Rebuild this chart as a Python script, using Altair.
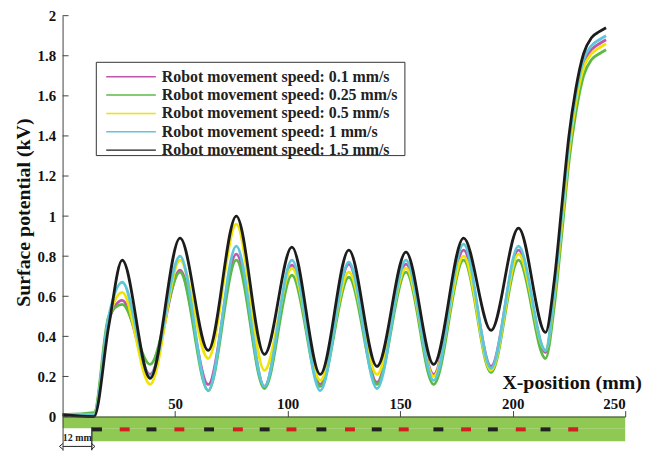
import altair as alt
import pandas as pd

SERIES = [
    "Robot movement speed: 0.1 mm/s",
    "Robot movement speed: 0.25 mm/s",
    "Robot movement speed: 0.5 mm/s",
    "Robot movement speed: 1 mm/s",
    "Robot movement speed: 1.5 mm/s",
]
COLORS = ["#c055ad", "#5cb947", "#f0e400", "#5cc6da", "#1c1c1c"]

X_POS = [0, 14, 20.5, 26.5, 38.9, 52.2, 64.7, 77.2, 89.7, 101.9, 114.5, 127.2, 139.7,
         152.6, 164.9, 178.2, 190.4, 202.6, 214.6, 218.5, 222, 225, 228, 231.5, 235, 238.5, 241.5]

V_01 = [0.01, 0.01, 0.48, 0.58, 0.21, 0.73, 0.16, 0.81, 0.15, 0.755, 0.16, 0.76, 0.17, 0.76,
        0.21, 0.83, 0.25, 0.83, 0.32, 0.60, 1.00, 1.34, 1.58, 1.76, 1.83, 1.86, 1.88]
V_025 = [0.01, 0.02, 0.50, 0.56, 0.26, 0.72, 0.13, 0.78, 0.14, 0.705, 0.15, 0.695, 0.16, 0.72,
         0.16, 0.78, 0.22, 0.78, 0.29, 0.55, 0.93, 1.27, 1.51, 1.70, 1.78, 1.81, 1.83]
V_05 = [0.01, 0.01, 0.48, 0.62, 0.16, 0.78, 0.29, 0.96, 0.23, 0.74, 0.18, 0.72, 0.21, 0.74,
        0.20, 0.80, 0.23, 0.81, 0.33, 0.60, 0.98, 1.32, 1.56, 1.74, 1.81, 1.84, 1.86]
V_1 = [0.01, 0.01, 0.50, 0.67, 0.20, 0.80, 0.13, 0.85, 0.15, 0.78, 0.13, 0.77, 0.14, 0.78,
       0.18, 0.86, 0.24, 0.85, 0.33, 0.62, 1.02, 1.36, 1.60, 1.78, 1.85, 1.88, 1.90]
V_15 = [0.01, 0.0, 0.45, 0.78, 0.19, 0.89, 0.33, 1.00, 0.31, 0.845, 0.21, 0.83, 0.25, 0.82,
        0.26, 0.89, 0.43, 0.94, 0.42, 0.68, 1.07, 1.40, 1.63, 1.81, 1.89, 1.92, 1.94]

Y_TICKS = [0, 0.2, 0.4, 0.6, 0.8, 1, 1.2, 1.4, 1.6, 1.8, 2]
X_TICKS = [50, 100, 150, 200, 250]

# substrate bar (green) below the axis
BAR_X0 = [0, 13]
BAR_X1 = [250, 250]
BAR_Y0 = [0, -0.059]
BAR_Y1 = [-0.059, -0.123]

# electrode dashes
DASH_X0 = [13.1, 25.4, 37.3, 49.7, 62.9, 75.7, 87.6, 99.5, 112.8, 125.5, 137.4, 149.4,
           164.8, 177.1, 189.0, 201.4, 212.4, 224.7]
DASH_X1 = [17.5, 29.8, 41.7, 54.1, 67.3, 80.1, 92.0, 103.9, 117.2, 129.9, 141.8, 153.8,
           169.2, 181.5, 193.4, 205.8, 216.8, 229.1]
DASH_KIND = ["black", "red"] * 9
DASH_Y0 = -0.054
DASH_Y1 = -0.074

GAP_MM = 13
ANNOT_TEXT = "12 mm"

FONT = "Liberation Serif"

rows = []
for name, vals in zip(SERIES, [V_01, V_025, V_05, V_1, V_15]):
    for i, (x, y) in enumerate(zip(X_POS, vals)):
        rows.append({"x": x, "y": y, "series": name, "k": i})
df = pd.DataFrame(rows)

bar_df = pd.DataFrame({"x0": BAR_X0, "x1": BAR_X1, "y0": BAR_Y0, "y1": BAR_Y1})
dash_df = pd.DataFrame({"x0": DASH_X0, "x1": DASH_X1, "kind": DASH_KIND,
                        "y0": [DASH_Y0] * len(DASH_X0), "y1": [DASH_Y1] * len(DASH_X0)})
tick_df = pd.DataFrame({"t": Y_TICKS})
legend_df = pd.DataFrame({"series": SERIES, "idx": list(range(len(SERIES)))})

xs = alt.Scale(domain=[0, 250], nice=False, zero=False)
ys = alt.Scale(domain=[-0.1683, 2], nice=False, zero=False)
cs = alt.Scale(domain=SERIES, range=COLORS)

x_axis = alt.Axis(orient="top", offset=-404, values=X_TICKS, tickSize=6, labelPadding=2,
                  labelBaseline="alphabetic",
                  grid=False, zindex=1, title="X-position (mm)", titleX=513, titleY=-28,
                  titleAlign="center", titleBaseline="alphabetic", labelFontSize=15,
                  titleFontSize=20)
y_axis = alt.Axis(values=Y_TICKS, format="~g", ticks=False, labelPadding=7, grid=False, zindex=1,
                  title="Surface potential (kV)", titleX=-39, titleY=198, titleAngle=-90,
                  titleAlign="center", titleBaseline="middle", labelFontSize=15,
                  titleFontSize=20)

bar = alt.Chart(bar_df).mark_rect(color="#8fc852").encode(
    x=alt.X("x0:Q", scale=xs, axis=x_axis),
    x2="x1:Q",
    y=alt.Y("y0:Q", scale=ys, axis=y_axis),
    y2="y1:Q",
)

dashes = alt.Chart(dash_df).mark_rect().encode(
    x=alt.X("x0:Q", scale=xs),
    x2="x1:Q",
    y=alt.Y("y0:Q", scale=ys),
    y2="y1:Q",
    fill=alt.Fill("kind:N", scale=alt.Scale(domain=["black", "red"], range=["#222222", "#d02020"]),
                  legend=None),
)

vline = alt.Chart(pd.DataFrame({"x": [GAP_MM], "y0": [DASH_Y0], "y1": [-0.1683]})).mark_rule(
    color="#222", strokeWidth=1.2).encode(
    x=alt.X("x:Q", scale=xs), y=alt.Y("y0:Q", scale=ys), y2="y1:Q")

arrow_df = pd.DataFrame({"x0": [0], "x1": [GAP_MM], "y": [-0.149]})
arrow = alt.Chart(arrow_df).mark_rule(color="#222", strokeWidth=1).encode(
    x=alt.X("x0:Q", scale=xs), x2="x1:Q", y=alt.Y("y:Q", scale=ys))

heads_df = pd.DataFrame({"x": [0, GAP_MM], "y": [-0.149, -0.149], "side": ["l", "r"]})
head_l = alt.Chart(heads_df[heads_df.side == "l"]).mark_point(
    shape="M0.2,-1L-1,0L0.2,1", filled=False, color="#222", size=40, strokeWidth=1, opacity=1).encode(
    x=alt.X("x:Q", scale=xs), y=alt.Y("y:Q", scale=ys))
head_r = alt.Chart(heads_df[heads_df.side == "r"]).mark_point(
    shape="M-0.2,-1L1,0L-0.2,1", filled=False, color="#222", size=40, strokeWidth=1, opacity=1).encode(
    x=alt.X("x:Q", scale=xs), y=alt.Y("y:Q", scale=ys))

annot = alt.Chart(pd.DataFrame({"x": [GAP_MM / 2], "y": [-0.106], "t": [ANNOT_TEXT]})).mark_text(
    font=FONT, fontWeight="bold", fontSize=10, color="#222", baseline="middle", align="center").encode(
    x=alt.X("x:Q", scale=xs), y=alt.Y("y:Q", scale=ys), text="t:N")

yticks = alt.Chart(tick_df).mark_rule(color="#444", strokeWidth=1).encode(
    y=alt.Y("t:Q", scale=ys), x=alt.value(0), x2=alt.value(6))

lines = alt.Chart(df).mark_line(strokeWidth=2.8, interpolate="monotone").encode(
    x=alt.X("x:Q", scale=xs),
    y=alt.Y("y:Q", scale=ys),
    order="k:Q",
    color=alt.Color("series:N", sort=SERIES, scale=cs, legend=None),
)

# legend drawn as marks (box, line samples, labels)
leg_box = alt.Chart(pd.DataFrame({"a": [0]})).mark_rect(
    fill="white", stroke="#333", strokeWidth=1).encode(
    x=alt.value(34), x2=alt.value(345), y=alt.value(47), y2=alt.value(141))

leg_base = alt.Chart(legend_df).transform_calculate(py="61.5 + datum.idx * 18.5")
leg_lines = leg_base.mark_rule(strokeWidth=1.5).encode(
    x=alt.value(44), x2=alt.value(94),
    y=alt.Y("py:Q", scale=None, axis=None),
    color=alt.Color("series:N", sort=SERIES, scale=cs, legend=None),
)
leg_text = leg_base.mark_text(
    font=FONT, fontWeight="bold", fontSize=16, color="#222", align="left", baseline="middle").encode(
    x=alt.value(100),
    y=alt.Y("py:Q", scale=None, axis=None),
    text="series:N",
)

chart = alt.layer(bar, dashes, vline, arrow, head_l, head_r, annot, yticks, lines,
                  leg_box, leg_lines, leg_text).resolve_scale(
    fill="independent"
).properties(
    width=567, height=438,
    autosize=alt.AutoSizeParams(type="none"),
    padding={"left": 55, "top": 6, "right": 24, "bottom": 0},
).configure_view(stroke=None).configure_axis(
    labelFont=FONT, titleFont=FONT, labelFontWeight="bold", titleFontWeight="bold",
    labelColor="#111", titleColor="#111", domainColor="#444", tickColor="#444",
)

chart.save("out.html", embed_options={"renderer": "svg", "actions": False})
